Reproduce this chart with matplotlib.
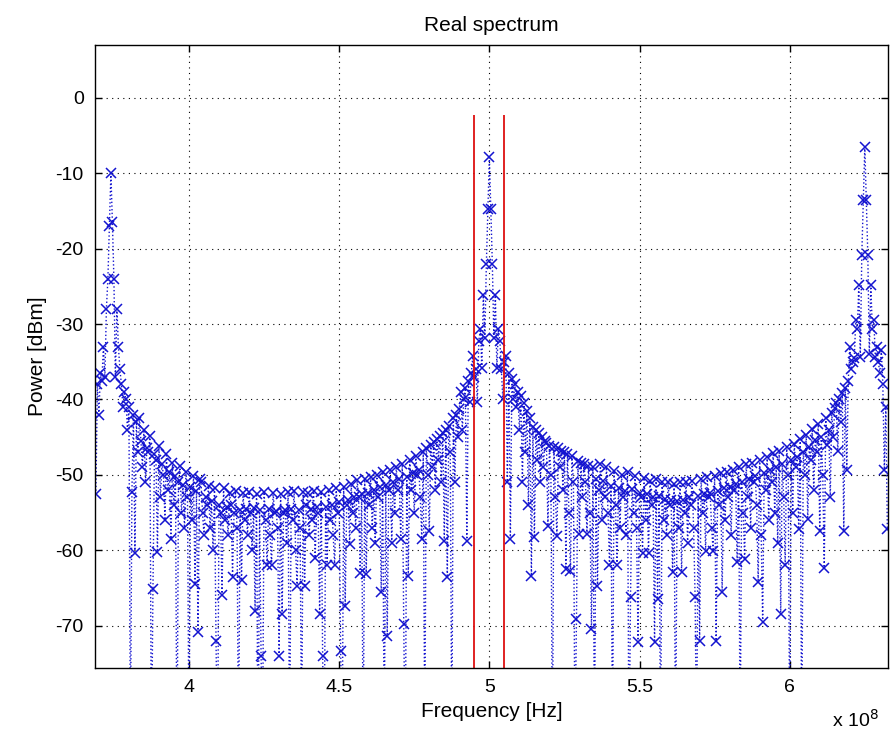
import numpy as np
import matplotlib
matplotlib.use("Agg")
from matplotlib import pyplot as plt
from matplotlib.ticker import FuncFormatter

# frequency grid of the trace (Hz), uniform FFT bins
f_start = 3.69e8
f_stop = 6.325e8
n_bins = 528

# power per bin [dBm] (values below the axis are nulls)
power_dbm = [
    -52.6, -38, -42, -36.5, -37.5, -33, -37, -28, -24, -17,
    -10, -16.5, -24, -37, -28, -33, -36, -38, -41, -39,
    -40, -44, -41, -85, -52.3, -42, -60.3, -43, -47, -42.5,
    -45.5, -49, -44, -51, -46.4, -47, -44.8, -88, -65.2, -47.3,
    -48, -60.2, -46.2, -53, -48.6, -50, -56, -47.2, -52, -49.6,
    -58.5, -48.4, -54, -50.2, -90, -51, -48.8, -55, -51.4, -57,
    -49.6, -53, -86, -51.6, -56, -50.2, -64.5, -52.2, -70.9, -50.6,
    -51, -55, -58, -53, -54, -51.5, -57, -53.5, -60, -51.8,
    -72, -88, -54, -55, -66, -51.8, -56, -54.2, -58, -52.4,
    -54, -63.5, -55, -52.2, -57, -87, -54.6, -64, -52.4, -56,
    -54.5, -58, -52.3, -55, -60, -54.4, -68, -52.5, -90, -54.6,
    -74, -85, -52.3, -56, -62, -54.5, -58, -62, -52.4, -55,
    -54.8, -57, -74, -52.5, -68.5, -55, -54.6, -59, -52.3, -88,
    -54.5, -56, -52.2, -60, -64.8, -54.6, -57, -86, -52.3, -64.8,
    -54, -52.4, -58, -54.5, -56, -52.2, -61, -54.3, -55, -68.5,
    -52.3, -74, -88, -54.2, -62, -52, -56, -54, -58, -62,
    -51.8, -55, -53.6, -73.4, -86, -51.6, -67.4, -54, -53.4, -59.2,
    -51.2, -55, -53, -57, -50.7, -53, -63, -52.6, -88, -50.6,
    -63.2, -52.4, -54, -50.3, -57, -52, -59, -50, -53, -51.6,
    -65.6, -49.6, -87, -51.4, -71.4, -52, -49.3, -59, -51, -55,
    -49, -52, -50.6, -58.5, -48.6, -69.8, -88, -50.3, -63.4, -48,
    -52, -49.8, -55, -47.5, -50, -49.3, -53, -58.5, -47, -86,
    -46.5, -50, -57.5, -46, -49, -45.6, -52, -45.2, -48, -44.8,
    -51, -44.4, -58.8, -44, -63.6, -43.5, -47, -87, -42.5, -50.9,
    -42, -45, -41.3, -39, -44, -40, -38.5, -58.8, -37.6, -40.3,
    -36.5, -34.3, -37, -36, -40.3, -32.2, -30.7, -35.8, -26.2, -31.8,
    -22.1, -14.8, -7.9, -14.8, -22.1, -31.8, -26.2, -35.8, -30.7, -32.2,
    -36, -40, -35, -34.3, -50.9, -36.5, -58.5, -37.3, -40, -38,
    -41, -39, -44, -39.5, -51, -40.5, -47, -41.5, -54, -42.5,
    -63.4, -43.6, -58.3, -44, -48, -44.5, -51, -45, -49, -45.5,
    -45.8, -56.8, -46.2, -50, -88, -46.3, -53, -58.1, -46.5, -49,
    -46.8, -52, -47, -62.5, -47.2, -55, -62.8, -47.5, -51, -86,
    -69.1, -48.2, -57.9, -48.4, -53, -48.6, -51, -57.9, -48.8, -55,
    -70.5, -49, -88, -50.5, -64.8, -52, -48.6, -56, -50.8, -53,
    -49, -55, -61.9, -51.5, -87, -49.5, -54, -61.9, -51.8, -57,
    -50, -53, -52.2, -58, -49.6, -88, -66.2, -51.9, -55, -50.2,
    -57, -72.2, -52.4, -53, -60.4, -50.4, -56, -52.6, -60.4, -50.8,
    -54, -53, -72.2, -50.6, -66.5, -52.8, -86, -51, -56, -53.2,
    -58, -51, -54, -53.4, -62.9, -51.2, -88, -53.5, -57, -51,
    -62.9, -53.3, -55, -51, -59, -53, -54, -50.8, -57, -66.2,
    -87, -52.8, -72, -50.5, -55, -52.6, -60.1, -50.3, -53, -52.4,
    -57, -60.1, -50.2, -72, -52.2, -54, -49.8, -65.6, -51.8, -56,
    -49.6, -53, -51.6, -58, -49.4, -52, -51.2, -61.6, -49, -87,
    -51, -55, -61.2, -48.6, -53, -50.6, -57, -48.4, -51, -50.2,
    -54, -64.2, -48, -58, -69.5, -49.8, -52, -47.6, -56, -49.3,
    -51, -47.1, -55, -49, -59, -46.8, -68.5, -48.5, -53, -61.9,
    -46.3, -50, -86, -48, -55, -45.9, -49, -47.6, -57.2, -45.3,
    -88, -47, -50, -44.7, -55.9, -46.3, -48, -43.9, -52, -45.4,
    -47, -43.3, -57.5, -45, -50, -62.3, -42.5, -46, -44, -53,
    -41.8, -45, -41.2, -40.5, -46.9, -40, -43, -39.2, -57.5, -38.5,
    -49.3, -37.5, -33.1, -36, -35, -34.5, -29.4, -30.7, -24.8, -34.4,
    -20.8, -13.5, -6.5, -13.5, -20.8, -34, -24.8, -30.7, -29.4, -34.4,
    -33.1, -35, -36.5, -33.5, -38, -49.3, -41, -57.2,
]

# channel edges drawn in red
band_edges_hz = [4.95e8, 5.05e8]
band_top_dbm = -2.3

freq_hz = np.linspace(f_start, f_stop, n_bins)

plt.rcParams['font.family'] = ['Liberation Sans', 'DejaVu Sans']
plt.rcParams['axes.unicode_minus'] = False

fig = plt.figure(figsize=(8.96, 7.38), dpi=100)
ax = fig.add_axes([0.106, 0.095, 0.885, 0.844])

ax.plot(freq_hz, power_dbm, linestyle=':', color='#1414d0', linewidth=1.0,
        marker='x', markersize=7, markeredgewidth=1.1)
ax.vlines(band_edges_hz, -90, band_top_dbm, color='#dd1010', linewidth=1.3)

ax.set_xlim(3.687e8, 6.327e8)
ax.set_ylim(-75.6, 7)
ax.set_xticks([4e8, 4.5e8, 5e8, 5.5e8, 6e8])
ax.set_yticks([0, -10, -20, -30, -40, -50, -60, -70])
ax.xaxis.set_major_formatter(FuncFormatter(lambda v, p: f'{v / 1e8:g}'))

ax.grid(True, linestyle=(0, (1, 4)), color='black', linewidth=0.8)
ax.tick_params(direction='in', length=5, width=1, top=True, right=True,
               labelsize=14, pad=8)
for s in ax.spines.values():
    s.set_linewidth(1.0)

ax.set_title('Real spectrum', fontsize=15, pad=10)
ax.set_xlabel('Frequency [Hz]', fontsize=15, labelpad=4)
ax.set_ylabel('Power [dBm]', fontsize=15, labelpad=6)
fig.text(0.955, 0.015, r'x 10$^8$', fontsize=14, ha='center')

plt.savefig('out.png', dpi=100)
